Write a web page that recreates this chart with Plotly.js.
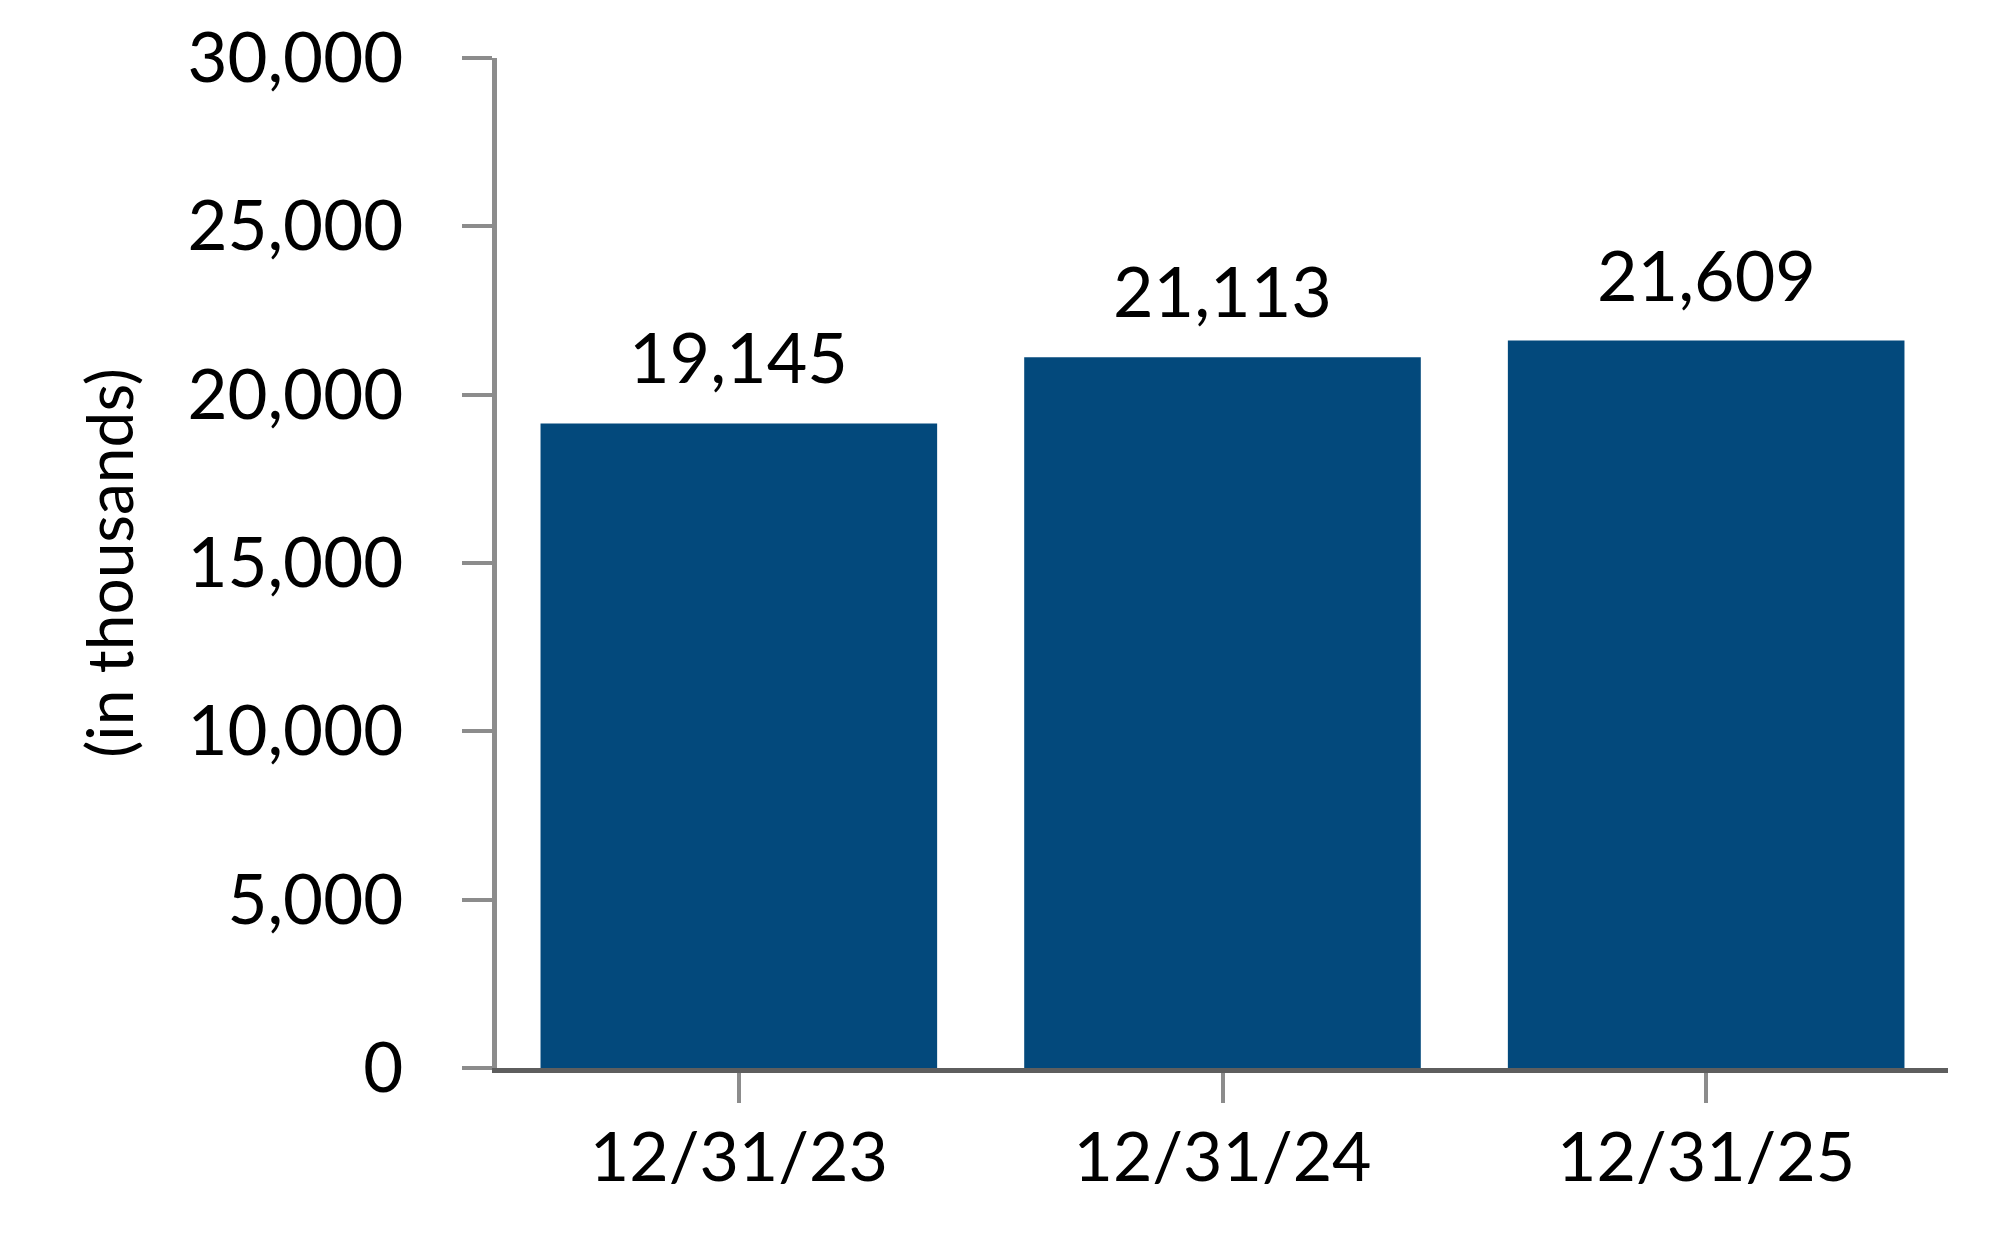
<!DOCTYPE html>
<html>
<head>
<meta charset="utf-8">
<script src="https://cdn.plot.ly/plotly-3.0.1.min.js"></script>
<style>
  html, body { margin: 0; padding: 0; background: #fff; }
  #chart { width: 2004px; height: 1260px; }
</style>
</head>
<body>
<div id="chart"></div>
<script>
// data
var dates = ['12/31/23', '12/31/24', '12/31/25'];
var totals = [19145, 21113, 21609];
var yTicks = [0, 5000, 10000, 15000, 20000, 25000, 30000];

var barColor = '#03497c';
var font = 'Lato, "Noto Sans", sans-serif';

var bars = {
  type: 'bar',
  x: dates,
  y: totals,
  marker: { color: barColor, line: { width: 0 } },
  hoverinfo: 'none'
};

// value labels above each bar
var notes = [];
for (var i = 0; i < dates.length; i++) {
  notes.push({
    x: dates[i],
    y: totals[i],
    text: totals[i].toLocaleString('en-US'),
    showarrow: false,
    yanchor: 'bottom',
    yshift: 23,
    font: { family: font, size: 70, color: '#000' }
  });
}

var layout = {
  width: 2004,
  height: 1260,
  margin: { l: 497, r: 56, t: 58, b: 192 },
  paper_bgcolor: '#fff',
  plot_bgcolor: '#fff',
  showlegend: false,
  bargap: 0.18,
  font: { family: font, color: '#000' },
  xaxis: {
    type: 'category',
    range: [-0.5, 2.5],
    showline: true,
    linecolor: '#5e5e5e',
    linewidth: 5,
    ticks: 'outside',
    ticklen: 30,
    tickwidth: 4,
    tickcolor: '#8c8c8c',
    ticklabelstandoff: -4,
    tickfont: { family: font, size: 68, color: '#000' },
    showgrid: false,
    zeroline: false
  },
  yaxis: {
    range: [0, 30000],
    tickvals: yTicks,
    tickformat: ',',
    showline: true,
    linecolor: '#8c8c8c',
    linewidth: 5,
    ticks: 'outside',
    ticklen: 30,
    tickwidth: 4,
    tickcolor: '#8c8c8c',
    ticklabelstandoff: 45,
    tickfont: { family: font, size: 69, color: '#000' },
    showgrid: false,
    zeroline: false,
    title: {
      text: '(in thousands)',
      standoff: 35,
      font: { family: font, size: 64, color: '#000' }
    }
  },
  annotations: notes
};

Plotly.newPlot('chart', [bars], layout, { staticPlot: true, displayModeBar: false });
</script>
</body>
</html>
